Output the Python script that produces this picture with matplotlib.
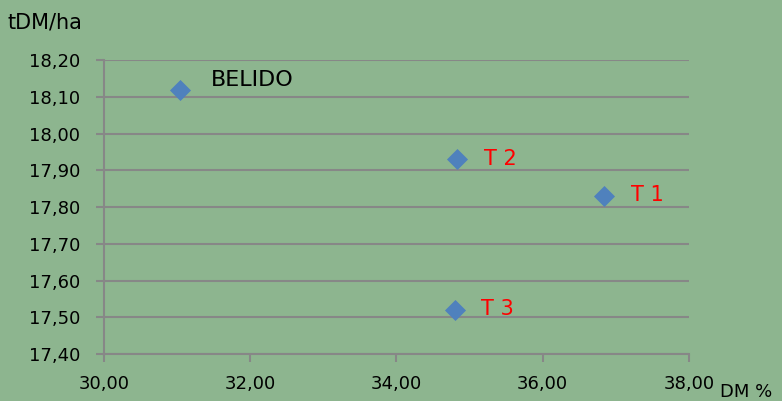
import matplotlib.pyplot as plt
from matplotlib.ticker import FuncFormatter

# data
names = ['BELIDO', 'T 2', 'T 1', 'T 3']
dm_pct = [31.04, 34.83, 36.84, 34.80]
yield_t = [18.12, 17.93, 17.83, 17.52]
label_colors = ['black', 'red', 'red', 'red']

x_ticks = [30, 32, 34, 36, 38]
y_ticks = [17.4, 17.5, 17.6, 17.7, 17.8, 17.9, 18.0, 18.1, 18.2]

bg = '#8db58f'
grid = '#878787'

plt.rcParams['font.family'] = ['DejaVu Sans']

fig = plt.figure(figsize=(7.82, 4.01), dpi=100, facecolor=bg)
ax = fig.add_axes([0.133, 0.117, 0.748, 0.733], facecolor=bg)

ax.scatter(dm_pct, yield_t, marker='D', s=115, color='#4f81bd', linewidths=0, zorder=3)
for name, x, y, c in zip(names, dm_pct, yield_t, label_colors):
    if c == 'black':
        ax.annotate(name, (x, y), xytext=(22, 7), textcoords='offset points',
                    color=c, fontsize=16, va='center', ha='left')
    else:
        ax.annotate(name, (x, y), xytext=(19, 0.5), textcoords='offset points',
                    color=c, fontsize=15, va='center', ha='left')

ax.set_xlim(30, 38)
ax.set_ylim(17.4, 18.2)
ax.set_xticks(x_ticks)
ax.set_yticks(y_ticks)
fmt = FuncFormatter(lambda v, p: f'{v:.2f}'.replace('.', ','))
ax.xaxis.set_major_formatter(fmt)
ax.yaxis.set_major_formatter(fmt)

ax.grid(axis='y', color=grid, linewidth=1.5)
ax.set_axisbelow(True)
for s in ['top', 'right']:
    ax.spines[s].set_visible(False)
for s in ['left', 'bottom']:
    ax.spines[s].set_color(grid)
    ax.spines[s].set_linewidth(1.5)
ax.tick_params(colors=grid, labelcolor='black', labelsize=13, length=6, width=1.5)
ax.tick_params(axis='x', pad=9)
ax.tick_params(axis='y', pad=11)

fig.text(7 / 782, 1 - 23 / 401, 'tDM/ha', fontsize=15, va='center', ha='left')
fig.text(720 / 782, 1 - 392 / 401, 'DM %', fontsize=13, va='center', ha='left')

fig.savefig('out.png', dpi=100, facecolor=bg)
